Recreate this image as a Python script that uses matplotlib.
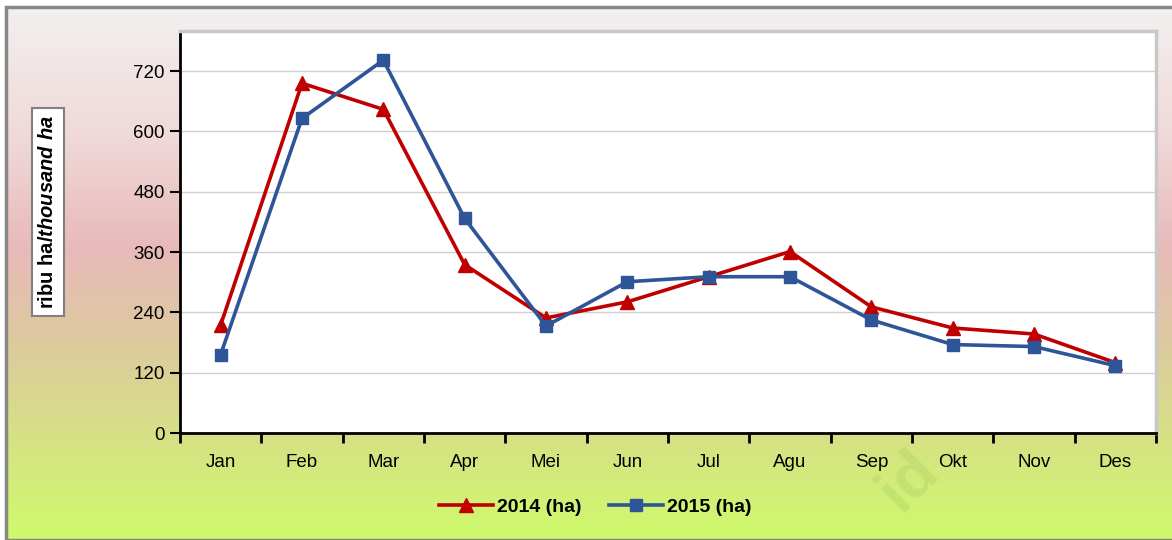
import numpy as np
import matplotlib.pyplot as plt
from matplotlib.colors import LinearSegmentedColormap
from matplotlib.patches import Rectangle

# data
bulan = ['Jan', 'Feb', 'Mar', 'Apr', 'Mei', 'Jun', 'Jul', 'Agu', 'Sep', 'Okt', 'Nov', 'Des']
luas_2014 = [215, 696, 644, 335, 229, 261, 311, 361, 251, 209, 197, 140]
luas_2015 = [156, 626, 742, 427, 213, 301, 311, 311, 225, 176, 172, 134]
yticks = [0, 120, 240, 360, 480, 600, 720]

plt.rcParams['font.family'] = ['Liberation Sans', 'DejaVu Sans']
plt.rcParams['mathtext.fontset'] = 'custom'
plt.rcParams['mathtext.rm'] = 'Liberation Sans:bold'
plt.rcParams['mathtext.it'] = 'Liberation Sans:italic:bold'
plt.rcParams['mathtext.bf'] = 'Liberation Sans:bold'

fig = plt.figure(figsize=(11.72, 5.4), dpi=100)

# background gradient (top: light, middle: pink, bottom: green-yellow)
bg = fig.add_axes([6 / 1172, 0, 1 - 6 / 1172, 533 / 540])
cmap = LinearSegmentedColormap.from_list('bg', [
    (0.0, '#f3f0f0'),
    (0.25, '#f0d8d8'),
    (0.45, '#e8baba'),
    (0.62, '#ddc9a0'),
    (0.80, '#d6e086'),
    (1.0, '#cffa6c'),
])
grad = np.linspace(0, 1, 256).reshape(-1, 1)
bg.imshow(grad, aspect='auto', cmap=cmap, extent=[0, 1, 0, 1])
bg.set_xlim(0, 1)
bg.set_ylim(0, 1)
bg.axis('off')
bg.add_patch(Rectangle((0, 0), 1.5, 1, fill=False, edgecolor='#888888', lw=2.5,
                       transform=bg.transAxes, clip_on=False))

# watermark
fig.text(0.775, 0.11, 'id', fontsize=46, fontweight='bold', rotation=45,
         color='#a8d060', alpha=0.35, ha='center', va='center')

ax = fig.add_axes([180 / 1172, 107 / 540, 976 / 1172, 402 / 540])
ax.set_facecolor('white')
x = np.arange(len(bulan))

ax.plot(x, luas_2014, color='#c00000', lw=2.6, marker='^', markersize=10,
        label='2014 (ha)', zorder=3)
ax.plot(x, luas_2015, color='#2e5597', lw=2.6, marker='s', markersize=9,
        label='2015 (ha)', zorder=3)

ax.set_xlim(-0.5, 11.5)
ax.set_ylim(0, 800)
ax.set_yticks(yticks)
ax.yaxis.grid(True, color='#cfcfcf', lw=1)
ax.set_axisbelow(True)

ax.set_xticks(x)
ax.set_xticklabels(bulan, fontsize=13.5)
ax.tick_params(axis='x', length=0, pad=15)
ax.set_xticks(np.arange(-0.5, 12, 1), minor=True)
ax.tick_params(axis='x', which='minor', length=7, width=2, direction='out')
ax.tick_params(axis='y', length=7, width=1.5, labelsize=13.5, pad=4)

for s in ['left', 'bottom']:
    ax.spines[s].set_linewidth(2)
    ax.spines[s].set_color('black')
for s in ['top', 'right']:
    ax.spines[s].set_color('#c8c8c8')
    ax.spines[s].set_linewidth(2.5)

# y label box
fig.text(48 / 1172, 1 - 212 / 540, 'ribu ha/$\\it{thousand\\ ha}$',
         rotation=90, ha='center', va='center', fontsize=14.5, fontweight='bold',
         bbox=dict(facecolor='white', edgecolor='#808080', lw=1.5, pad=5))

leg = fig.legend(loc='center', bbox_to_anchor=(595 / 1172, 1 - 507 / 540), ncol=2,
                 frameon=False, prop={'weight': 'bold', 'size': 14},
                 handlelength=2.8, handletextpad=0.2, columnspacing=1.4)

fig.savefig('out.png', dpi=100)
